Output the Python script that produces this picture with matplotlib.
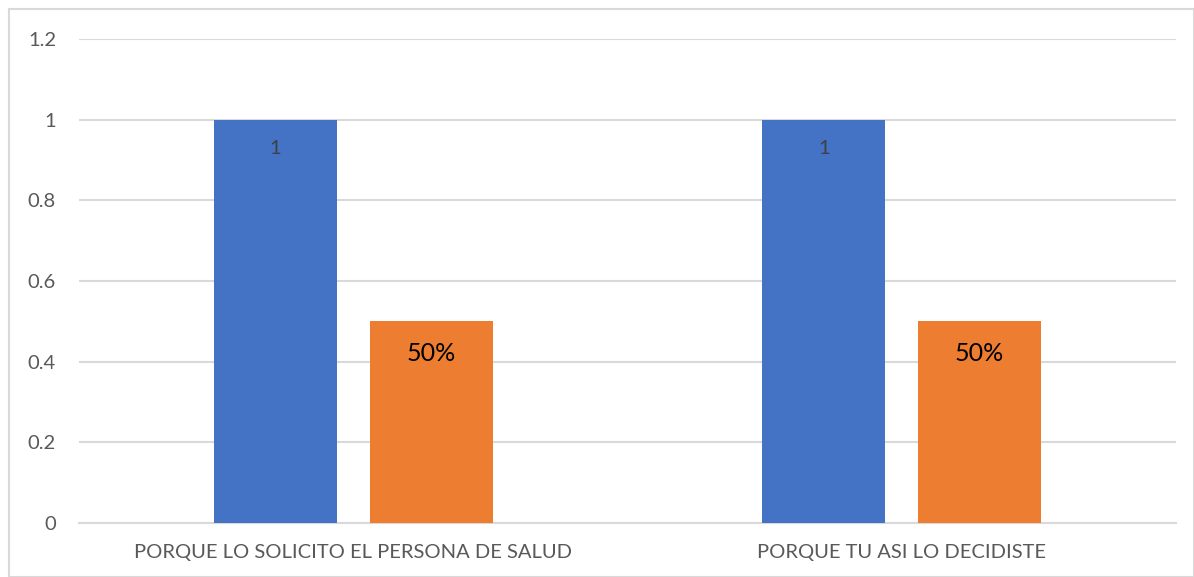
import matplotlib.pyplot as plt
import numpy as np

categories = ["PORQUE LO SOLICITO EL PERSONA DE SALUD", "PORQUE TU ASI LO DECIDISTE"]
serie_a = [1, 1]
serie_b = [0.5, 0.5]
labels_a = ["1", "1"]
labels_b = ["50%", "50%"]
yticks = [0, 0.2, 0.4, 0.6, 0.8, 1, 1.2]
ytick_labels = ["0", "0.2", "0.4", "0.6", "0.8", "1", "1.2"]

plt.rcParams['font.family'] = ['Lato', 'DejaVu Sans']

fig = plt.figure(figsize=(11.94, 5.77), dpi=100)
ax = fig.add_axes([79/1194, 1-523/577, (1176-79)/1194, (523-39)/577])

x = np.arange(len(categories))
w = 0.224
off = 0.142
bars_a = ax.bar(x - off, serie_a, w, color='#4472C4', zorder=3)
bars_b = ax.bar(x + off, serie_b, w, color='#ED7D31', zorder=3)

for b, t in zip(bars_a, labels_a):
    ax.text(b.get_x() + b.get_width()/2, b.get_height() - 0.072, t,
            ha='center', va='center', fontsize=14.5, color='#404040', zorder=4)
for b, t in zip(bars_b, labels_b):
    ax.text(b.get_x() + b.get_width()/2, b.get_height() - 0.08, t,
            ha='center', va='center', fontsize=18, color='black', zorder=4)

ax.set_xlim(-0.5, 1.5)
ax.set_ylim(0, 1.2)
ax.set_yticks(yticks)
ax.set_yticklabels(ytick_labels)
ax.set_xticks(x)
ax.set_xticklabels(categories)
ax.tick_params(axis='y', length=0, pad=16.5, labelsize=14.5, labelcolor='#595959')
ax.tick_params(axis='x', length=0, pad=15, labelsize=14.5, labelcolor='#595959')
ax.grid(axis='y', color='#D9D9D9', linewidth=1.5, zorder=0)
for s in ['top', 'right', 'left']:
    ax.spines[s].set_visible(False)
ax.spines['bottom'].set_color('#D9D9D9')
ax.spines['bottom'].set_linewidth(1.5)

# outer frame of the chart
fig.patches.append(plt.Rectangle((9/1194, 0), 1 - 9/1194, 1 - 9/577, transform=fig.transFigure,
                                 fill=False, edgecolor='#D9D9D9', linewidth=1.5))

fig.savefig('out.png', dpi=100)
